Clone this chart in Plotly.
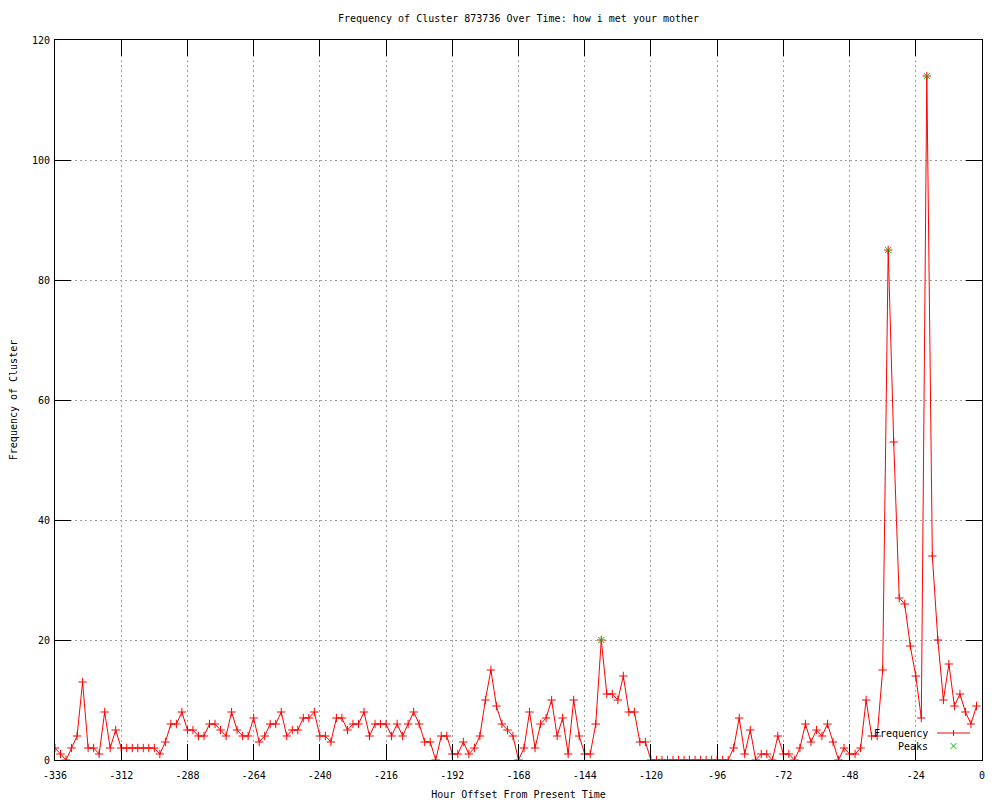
import plotly.graph_objects as go

# ---- data ----
hours = list(range(-336, 0, 2))  # hourly offsets, every 2 hours
freq = [
    2, 1, 0, 2, 4, 13, 2, 2, 1, 8, 2, 5, 2, 2, 2, 2, 2, 2, 2, 1,
    3, 6, 6, 8, 5, 5, 4, 4, 6, 6, 5, 4, 8, 5, 4, 4, 7, 3, 4, 6,
    6, 8, 4, 5, 5, 7, 7, 8, 4, 4, 3, 7, 7, 5, 6, 6, 8, 4, 6, 6,
    6, 4, 6, 4, 6, 8, 6, 3, 3, 0, 4, 4, 1, 1, 3, 1, 2, 4, 10, 15,
    9, 6, 5, 4, 0, 2, 8, 2, 6, 7, 10, 4, 7, 1, 10, 4, 1, 1, 6, 20,
    11, 11, 10, 14, 8, 8, 3, 3, 0, 0, 0, 0, 0, 0, 0, 0, 0, 0, 0, 0,
    0, 0, 0, 2, 7, 1, 5, 0, 1, 1, 0, 4, 1, 1, 0, 2, 6, 3, 5, 4,
    6, 3, 0, 2, 1, 1, 2, 10, 4, 4, 15, 85, 53, 27, 26, 19, 14, 7, 114, 34,
    20, 10, 16, 9, 11, 8, 6, 9,
]
peak_hours = [-138, -34, -20]
peak_vals = [20, 85, 114]
x_ticks = list(range(-336, 1, 24))
y_ticks = list(range(0, 121, 20))

title_text = "Frequency of Cluster 873736 Over Time: how i met your mother"
x_title = "Hour Offset From Present Time"
y_title = "Frequency of Cluster"
legend_names = ["Frequency", "Peaks"]

RED = "#ff0000"
GREEN = "#00c000"
FONT = "DejaVu Sans Mono"

W, H = 1000, 800
ML, MR, MT, MB = 55, 18, 40, 40
PW, PH = W - ML - MR, H - MT - MB


def px(x):
    return (x - ML) / PW


def py(y):
    return (H - MB - y) / PH


fig = go.Figure()
fig.add_trace(go.Scatter(
    x=hours, y=freq, mode="lines+markers", name=legend_names[0],
    line=dict(color=RED, width=1),
    marker=dict(symbol="cross-thin", size=6, line=dict(color=RED, width=1), color=RED),
    showlegend=False,
))
fig.add_trace(go.Scatter(
    x=peak_hours, y=peak_vals, mode="markers", name=legend_names[1],
    marker=dict(symbol="x-thin", size=6, line=dict(color=GREEN, width=1), color=GREEN),
    showlegend=False,
))

axis_common = dict(
    showline=True, linecolor="black", linewidth=1, mirror="ticks",
    ticks="inside", ticklen=16, tickcolor="black", tickwidth=1,
    showgrid=True, gridcolor="#a0a0a0", griddash="2px,3px", gridwidth=1,
    zeroline=False, automargin=False,
    tickfont=dict(family=FONT, size=10, color="black"),
)

fig.update_xaxes(range=[-336, 0], tickvals=x_ticks, ticktext=[str(v) for v in x_ticks],
                 ticklabelstandoff=6,
                 title=dict(text=x_title, font=dict(family=FONT, size=10, color="black"), standoff=10),
                 **axis_common)
fig.update_yaxes(range=[0, 120], tickvals=y_ticks, ticktext=[str(v) for v in y_ticks],
                 ticklabelstandoff=2,
                 title=dict(text=y_title, font=dict(family=FONT, size=10, color="black"), standoff=12),
                 **axis_common)

# manual gnuplot-style legend (text left, sample right)
ann = []
shapes = []
for name, yy in [(legend_names[0], 733), (legend_names[1], 746)]:
    ann.append(dict(x=px(930), y=py(yy), xref="paper", yref="paper", text=name,
                    showarrow=False, xanchor="right", yanchor="middle",
                    font=dict(family=FONT, size=10, color="black")))
shapes.append(dict(type="line", xref="paper", yref="paper", x0=px(937), x1=px(970),
                   y0=py(733), y1=py(733), line=dict(color=RED, width=1)))
shapes.append(dict(type="line", xref="paper", yref="paper", x0=px(953.5), x1=px(953.5),
                   y0=py(730), y1=py(736), line=dict(color=RED, width=1)))
shapes.append(dict(type="line", xref="paper", yref="paper", x0=px(950.5), x1=px(956.5),
                   y0=py(743), y1=py(749), line=dict(color=GREEN, width=1)))
shapes.append(dict(type="line", xref="paper", yref="paper", x0=px(950.5), x1=px(956.5),
                   y0=py(749), y1=py(743), line=dict(color=GREEN, width=1)))

fig.update_layout(
    width=W, height=H,
    margin=dict(l=ML, r=MR, t=MT, b=MB),
    paper_bgcolor="white", plot_bgcolor="white",
    title=dict(text=title_text, x=0.5, xref="paper", y=1 - 18 / H, yref="container",
               xanchor="center", yanchor="middle",
               font=dict(family=FONT, size=10, color="black")),
    annotations=ann, shapes=shapes,
    font=dict(family=FONT, size=10, color="black"),
)

fig.write_html("out.html", config={"displayModeBar": False},
               post_script="document.body.style.margin='0';document.body.style.padding='0';")
